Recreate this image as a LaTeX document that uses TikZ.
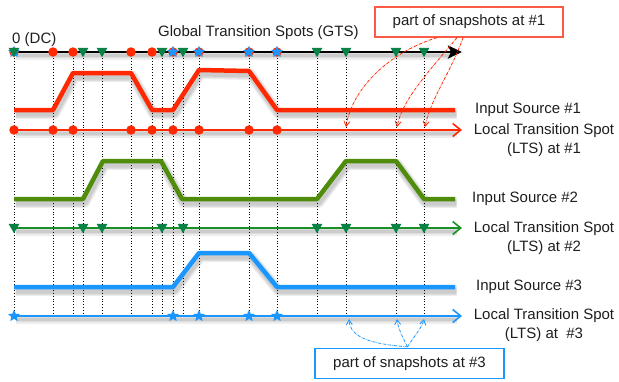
\documentclass[tikz,border=0pt]{standalone}
\usepackage{fontspec}
\setmainfont{Liberation Sans}
\usetikzlibrary{shapes.geometric,arrows.meta,calc}
\definecolor{cred}{RGB}{255,40,0}
\definecolor{cboxred}{RGB}{250,90,70}
\definecolor{cgreenw}{RGB}{78,140,10}
\definecolor{cgreenl}{RGB}{25,145,40}
\definecolor{ctri}{RGB}{10,130,70}
\definecolor{cblue}{RGB}{25,150,255}
\definecolor{ctext}{RGB}{30,30,30}
\def\redwave{(14,110) -- (53,110) -- (73,73) -- (131,73) -- (152,110) -- (173,110) -- (199,70) -- (249,71) -- (277,110) -- (455,110)}
\def\greenwave{(14,199) -- (83,199) -- (103,161) -- (161,161) -- (182,199) -- (317,199) -- (346,161) -- (396,161) -- (424,199) -- (455,199)}
\def\bluewave{(14,287) -- (173,287) -- (199,253) -- (249,253) -- (277,287) -- (455,287)}
\begin{document}
\begin{tikzpicture}[x=1pt,y=-1pt,
  lbl/.style={font=\fontsize{15}{19}\selectfont, inner sep=0pt, text=ctext},
  wave/.style={line width=4.5pt, line join=round},
  ltsline/.style={line width=1.6pt},
  shd/.style={draw=black, opacity=0.07, line join=round},
  vdot/.style={dotted, line width=0.9pt, black},
  rdot/.style={circle, fill=cred, inner sep=0pt, minimum size=9.5pt},
  gtri/.style={regular polygon, regular polygon sides=3, shape border rotate=180, fill=ctri, inner sep=0pt, minimum size=12.5pt},
  bstar/.style={star, star points=5, star point ratio=2.2, fill=cblue, inner sep=0pt, minimum size=12.5pt},
  snaparrow/.style={densely dash dot, line width=0.8pt, -{Straight Barb[length=5pt,width=6pt]}},
  snapbox/.style={lbl, line width=1.2pt, fill=white, minimum width=188pt, minimum height=30pt}
]
\useasboundingbox (0,0) rectangle (619,381);

% soft shadows
\begin{scope}[shift={(1.5,3.5)}]
  \foreach \w in {11,8.5,6} {
    \draw[shd, line width=\w pt] \redwave;
    \draw[shd, line width=\w pt] \greenwave;
    \draw[shd, line width=\w pt] \bluewave;
  }
  \foreach \w in {8,5.5,3.5} {
    \draw[shd, line width=\w pt] (14,52) -- (450,52);
    \draw[shd, line width=\w pt] (14,130) -- (455,130);
    \draw[shd, line width=\w pt] (14,228) -- (455,228);
    \draw[shd, line width=\w pt] (14,316) -- (455,316);
  }
\end{scope}

% dotted vertical lines
\foreach \x in {14,53,73,83,102,131,152,162,173,183,199,249,277,317,346,396,424}
  \draw[vdot] (\x,52) -- (\x,316);

% GTS axis
\coordinate (gts0) at (14,52);
\coordinate (gtsE) at (462,52);
\draw[line width=2.6pt, -{Stealth[length=14pt,width=13pt,inset=3pt]}] (gts0) -- (gtsE);

% waveforms
\draw[wave, cred] \redwave;
\draw[wave, cgreenw] \greenwave;
\draw[wave, cblue] \bluewave;

% LTS lines
\coordinate (r0) at (14,130); \coordinate (rE) at (462,130);
\coordinate (g0) at (14,228); \coordinate (gE) at (462,228);
\coordinate (b0) at (14,316); \coordinate (bE) at (462,316);
\draw[ltsline, cred, -{Straight Barb[length=8pt,width=13pt]}] (r0) -- (rE);
\draw[ltsline, cgreenl, -{Straight Barb[length=8pt,width=13pt]}] (g0) -- (gE);
\draw[ltsline, cblue, -{Straight Barb[length=8pt,width=13pt]}] (b0) -- (bE);

% markers on GTS
\foreach \x [count=\i] in {14,53,73,131,152,173,199,249,277}
  \node[rdot] (gr\i) at (\x,52) {};
\foreach \x [count=\i] in {14,173,199,249,277}
  \node[bstar] (gb\i) at (\x,52) {};
\foreach \x [count=\i] in {14,83,102,162,183,317,346,396,424}
  \node[gtri] (gg\i) at (\x,51) {};

% markers on LTS lines
\foreach \x [count=\i] in {14,53,73,131,152,173,199,249,277}
  \node[rdot] (lr\i) at (\x,130) {};
\foreach \x [count=\i] in {14,83,102,162,183,317,346,396,424}
  \node[gtri] (lg\i) at (\x,227) {};
\foreach \x [count=\i] in {14,173,199,249,277}
  \node[bstar] (lb\i) at (\x,316) {};

% snapshot target coordinates
\coordinate (s1a) at (346,127);
\coordinate (s1b) at (397,127);
\coordinate (s1c) at (425,127);
\coordinate (s3a) at (349,319);
\coordinate (s3b) at (397,319);
\coordinate (s3c) at (424,319);

% labels
\node[lbl, anchor=west] (dc) at (12,40) {0 (DC)};
\node[lbl, anchor=west] (gtslbl) at (158,33) {Global Transition Spots (GTS)};
\node[lbl, anchor=west] (in1) at (475,110) {Input Source \#1};
\node[lbl, align=center] (lts1) at (544,140) {Local Transition Spot\\(LTS) at \#1};
\node[lbl, anchor=west] (in2) at (472,199) {Input Source \#2};
\node[lbl, align=center] (lts2) at (544,238) {Local Transition Spot\\(LTS) at \#2};
\node[lbl, anchor=west] (in3) at (476,287) {Input Source \#3};
\node[lbl, align=center] (lts3) at (544,325) {Local Transition Spot\\(LTS) at ~\#3};

% snapshot boxes
\node[snapbox, draw=cboxred] (snap1) at (469,22) {part of snapshots at \#1};
\node[snapbox, draw=cblue, minimum width=189pt] (snap3) at (409.5,363.5) {part of snapshots at \#3};

% snapshot arrows #1
\draw[snaparrow, cred] ($(snap1.south)+(-32,0)$) .. controls (390,52) and (352,88) .. (s1a);
\draw[snaparrow, cred] ($(snap1.south)+(-12,0)$) .. controls (430,70) and (402,100) .. (s1b);
\draw[snaparrow, cred] ($(snap1.south)+(-6,0)$) .. controls (452,70) and (430,100) .. (s1c);

% snapshot arrows #3
\coordinate (s3o) at ($(snap3.north)+(-2,-1)$);
\draw[snaparrow, cblue] (s3o) .. controls (372,344) and (350,338) .. (s3a);
\draw[snaparrow, cblue] (s3o) .. controls (402,336) and (398,328) .. (s3b);
\draw[snaparrow, cblue] (s3o) .. controls (414,336) and (422,328) .. (s3c);
\end{tikzpicture}
\end{document}
